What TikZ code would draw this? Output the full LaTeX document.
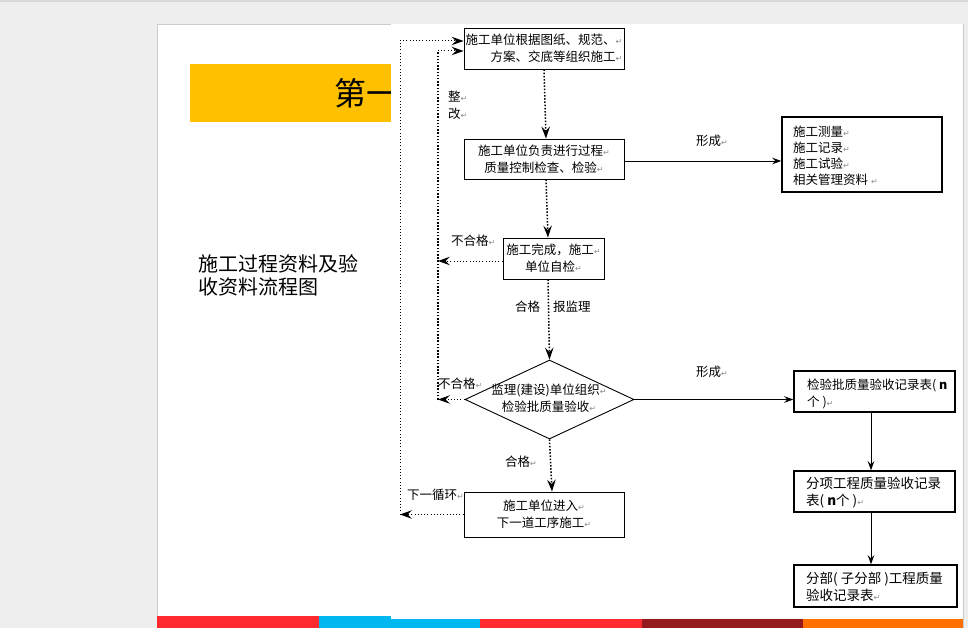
\documentclass[tikz,border=0pt]{standalone}
\usepackage{fontspec}
\setmainfont{Noto Sans CJK SC}
\newfontfamily\markfont{DejaVu Sans}
\usetikzlibrary{arrows.meta, shapes.geometric}

\definecolor{pagegrey}{HTML}{EEEEEE}
\definecolor{bandyellow}{HTML}{FFC000}
\definecolor{barred}{HTML}{FF2A2F}
\definecolor{barcyan}{HTML}{00B8F0}
\definecolor{bardark}{HTML}{951A1D}
\definecolor{barorange}{HTML}{FF7000}
\newcommand{\pmk}{{\markfont\fontsize{8}{8}\selectfont\textcolor{black!45}{↵}}}

\tikzset{
    flowfont/.style={font=\fontsize{12.5}{17}\selectfont},
    flowbox/.style={draw, line width=0.9pt, flowfont, inner sep=0pt, align=center},
    recbox/.style={draw, line width=1.5pt, inner sep=0pt},
    rectext/.style={flowfont, inner sep=0pt, anchor=west, align=left},
    widefont/.style={font=\fontsize{13.5}{17}\selectfont},
    flowlabel/.style={flowfont, inner sep=0pt},
    bigtip/.style={-{Stealth[length=12pt, width=8.5pt, inset=4.5pt]}},
    smalltip/.style={-{Stealth[length=9pt, width=6.5pt, inset=3pt]}},
    flowdot/.style={line width=1.5pt, dash pattern=on 1.5pt off 1.7pt},
    backdot/.style={line width=1pt, dash pattern=on 1pt off 2.2pt},
}

\begin{document}
\begin{tikzpicture}[x=1pt, y=-1pt]
    \useasboundingbox (0,0) rectangle (968,628);

    % Slide page and colour bars
    \fill[pagegrey] (0,0) rectangle (968,628);
    \fill[black!15] (0,0) rectangle (968,2);
    \fill[white, draw=black!20, line width=0.6pt] (157,24) rectangle (963,628);
    \fill[barred] (157,616) rectangle (319,628);
    \fill[barcyan] (319,616) rectangle (480,628);
    \fill[barred] (480,616) rectangle (642,628);
    \fill[bardark] (642,616) rectangle (803,628);
    \fill[barorange] (803,616) rectangle (963,628);

    % Title band, cut off by the pasted flow chart
    \fill[bandyellow] (190,64) rectangle (391,122);
    \node[font=\fontsize{32}{32}\selectfont, anchor=west, inner sep=0pt] (title) at (334,93) {第一};
    \fill[white] (391,24.5) rectangle (962.5,619);

    \node[font=\fontsize{20}{23}\selectfont, anchor=west, align=left, inner sep=0pt] (caption) at (198,275) {施工过程资料及验\\收资料流程图};

    % Main column
    \node[flowbox, align=right, minimum width=160pt, minimum height=41pt] (buildbox) at (544,48.5) {施工单位根据图纸、规范、\pmk\\方案、交底等组织施工\pmk};
    \node[flowbox, minimum width=160pt, minimum height=40pt] (checkbox) at (544,159) {施工单位负责进行过程\pmk\\质量控制检查、检验\pmk};
    \node[flowbox, minimum width=101pt, minimum height=41pt] (selfbox) at (553.5,258.5) {施工完成，施工\pmk\\单位自检\pmk};
    \node[draw, diamond, line width=0.9pt, inner sep=0pt, minimum width=169pt, minimum height=79pt] (acceptdia) at (549.5,399.5) {};
    \node[flowlabel, align=center] (accepttext) at (549,398) {监理(建设)单位组织\pmk\\检验批质量验收\pmk};
    \node[flowbox, minimum width=160pt, minimum height=45pt] (nextbox) at (544,514.5) {施工单位进入\pmk\\下一道工序施工\pmk};

    % Record boxes on the right
    \node[recbox, minimum width=160pt, minimum height=75pt] (databox) at (862,154.5) {};
    \node[rectext, font=\fontsize{12.5}{16}\selectfont] (datatext) at (793,156) {施工测量\pmk\\施工记录\pmk\\施工试验\pmk\\相关管理资料 \pmk};
    \node[recbox, minimum width=161pt, minimum height=41pt] (batchbox) at (874.5,391.5) {};
    \node[rectext] (batchtext) at (807,393.5) {检验批质量验收记录表( \textbf{n}\\个 )\pmk};
    \node[recbox, minimum width=161pt, minimum height=41pt] (itembox) at (874.5,491.5) {};
    \node[rectext, widefont] (itemtext) at (806,493) {分项工程质量验收记录\\表( \textbf{n}个 )\pmk};
    \node[recbox, minimum width=163pt, minimum height=42pt] (partbox) at (875.5,586) {};
    \node[rectext, widefont] (parttext) at (806,586.5) {分部( 子分部 )工程质量\\验收记录表\pmk};

    % Labels
    \node[flowlabel, anchor=west] (fixa) at (448,97) {整\pmk};
    \node[flowlabel, anchor=west] (fixb) at (448,114) {改\pmk};
    \node[flowlabel, anchor=west] (faila) at (451,241) {不合格\pmk};
    \node[flowlabel, anchor=west] (passa) at (515,307) {合格};
    \node[flowlabel, anchor=west] (report) at (553,307) {报监理};
    \node[flowlabel, anchor=west] (failb) at (438,384) {不合格\pmk};
    \node[flowlabel, anchor=west] (passb) at (505,462) {合格\pmk};
    \node[flowlabel, anchor=west] (loop) at (407,495) {下一循环\pmk};
    \node[flowlabel, anchor=west] (forma) at (696,141) {形成\pmk};
    \node[flowlabel, anchor=west] (formb) at (696,372) {形成\pmk};

    % Forward flow
    \draw[flowdot, bigtip] (buildbox.south) -- ([xshift=2pt]checkbox.north);
    \draw[flowdot, bigtip] ([xshift=2pt]checkbox.south) -- ([xshift=-5.5pt]selfbox.north);
    \draw[flowdot, bigtip] ([xshift=-5.5pt]selfbox.south) -- (acceptdia.north);
    \draw[flowdot, bigtip] (acceptdia.south) -- ([xshift=8pt]nextbox.north);

    % Rework lines
    \coordinate (outertop) at (400,41);
    \coordinate (outerbot) at (400,514.5);
    \coordinate (innertop) at (438,51);
    \coordinate (innerbot) at (438,399.5);
    \draw[backdot] (outerbot) -- (outertop);
    \draw[backdot, bigtip] (outertop) -- (buildbox.west |- outertop);
    \draw[flowdot] (innerbot) -- (innertop);
    \draw[backdot, bigtip] (innertop) -- (buildbox.west |- innertop);
    \draw[backdot, bigtip] ([yshift=-2.5pt]selfbox.west) -- ([yshift=-2.5pt]selfbox.west -| innerbot);
    \draw[backdot, bigtip] (acceptdia.west) -- (innerbot);
    \draw[backdot, bigtip] (nextbox.west) -- (outerbot);

    % Records
    \draw[line width=0.9pt, smalltip] ([yshift=-2pt]checkbox.east) -- ([yshift=-2pt]checkbox.east -| databox.west);
    \draw[line width=0.9pt, smalltip] (acceptdia.east) -- (acceptdia.east -| batchbox.west);
    \draw[line width=0.9pt, smalltip] ([xshift=-3.5pt]batchbox.south) -- ([xshift=-3.5pt]itembox.north);
    \draw[line width=0.9pt, smalltip] ([xshift=-3.5pt]itembox.south) -- ([xshift=-4.5pt]partbox.north);
\end{tikzpicture}
\end{document}
